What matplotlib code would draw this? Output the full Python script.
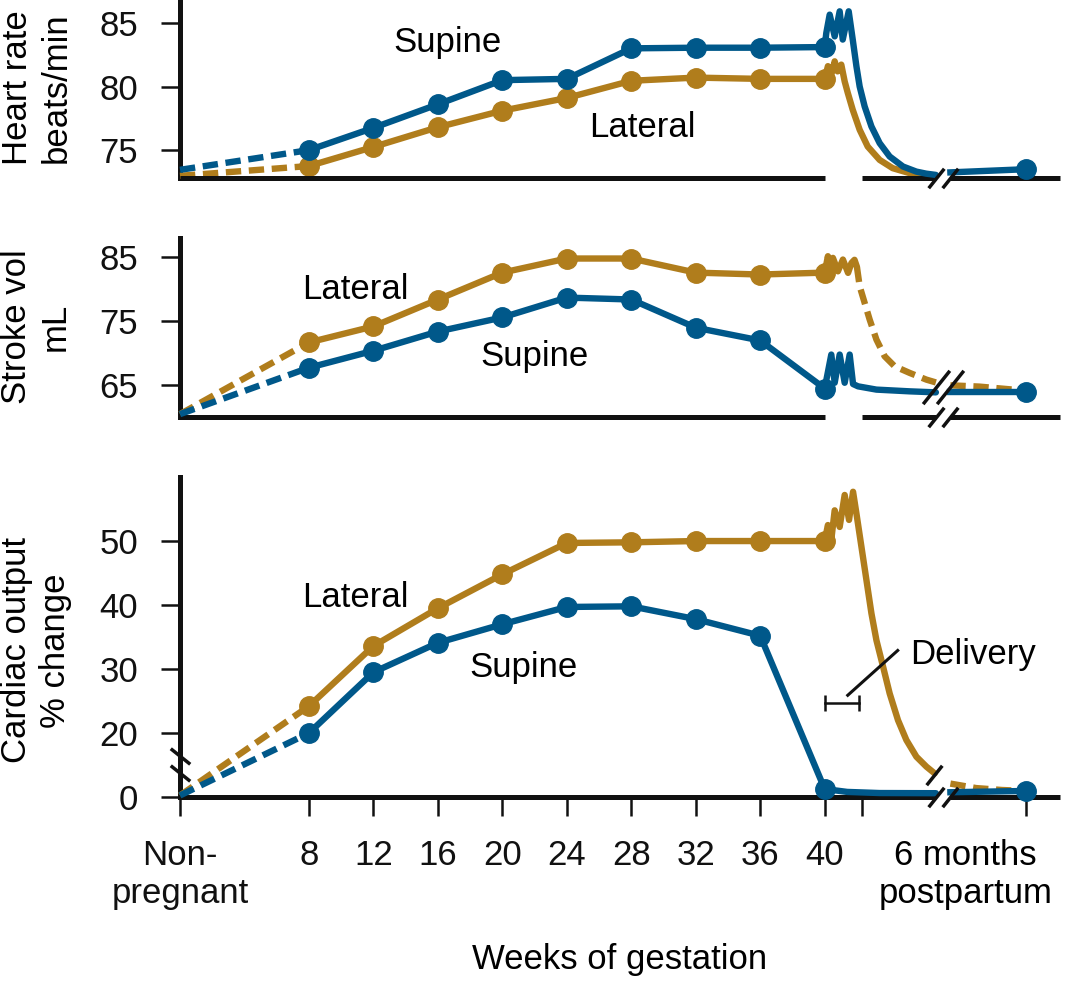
import numpy as np
import matplotlib
matplotlib.use('Agg')
import matplotlib.pyplot as plt

# colours and basic style
BLUE = '#00588A'
GOLD = '#B07D1C'
INK = '#111111'
plt.rcParams['font.family'] = ['Liberation Sans', 'DejaVu Sans']
plt.rcParams['font.size'] = 25

# --- data (weeks of gestation) ---
weeks = [8, 12, 16, 20, 24, 28, 32, 36, 40]
post_week = 52.5          # 6 months postpartum, on the broken axis
post_label_week = 48.75   # where its label is centred
delivery_week = 42.3
brk = (46.9, 47.8)        # axis break

# heart rate (beats/min)
hr_start = {'supine': 73.45, 'lateral': 72.98}
hr_supine = [75.0, 76.75, 78.6, 80.5, 80.6, 83.0, 83.05, 83.05, 83.1]
hr_lateral = [73.75, 75.25, 76.8, 78.1, 79.1, 80.45, 80.7, 80.6, 80.6]
hr_sup_after_w = [40, 40.10, 40.31, 40.62, 40.93, 41.12, 41.49, 41.74, 41.97, 42.17, 42.48, 42.90,
                  43.41, 44.03, 44.86, 45.69, 46.3, 46.9]
hr_sup_after_v = [83.1, 84.21, 85.65, 83.94, 85.91, 83.69, 85.91, 83.69, 81.58, 80.0, 78.43, 76.86,
                  75.55, 74.5, 73.71, 73.31, 73.15, 73.05]
hr_lat_after_w = [40, 40.2, 40.45, 40.62, 40.8, 41.03, 41.24, 41.43, 41.74, 42.17, 42.67, 43.41,
                  44.22, 45.27, 46.08, 46.7]
hr_lat_after_v = [80.6, 81.6, 81.1, 81.98, 81.19, 81.72, 80.4, 79.51, 78.17, 76.6, 75.28, 74.23,
                  73.58, 73.19, 73.05, 73.0]
hr_sup_post = [73.25, 73.5]

# stroke volume (mL)
sv_start = {'supine': 60.5, 'lateral': 60.5}
sv_supine = [67.75, 70.4, 73.4, 75.6, 78.7, 78.4, 74.0, 72.0, 64.5]
sv_lateral = [71.7, 74.2, 78.4, 82.6, 84.8, 84.8, 82.6, 82.3, 82.6]
sv_lat_wiggle_w = [40, 40.2, 40.31, 40.51, 40.82, 41.13, 41.45, 41.66, 41.85, 42.0]
sv_lat_wiggle_v = [82.6, 85.16, 83.08, 84.9, 82.8, 84.64, 82.56, 84.1, 84.6, 83.5]
sv_lat_decay_w = [42.0, 42.17, 42.48, 42.79, 43.21, 43.72, 44.34, 45.27, 46.31, 46.9]
sv_lat_decay_v = [83.5, 80.47, 77.87, 75.27, 72.14, 69.53, 67.97, 66.94, 65.89, 65.45]
sv_lat_post_w = [47.8, 49.6, 51.7, 52.5]
sv_lat_post_v = [65.0, 64.8, 64.33, 64.0]
sv_sup_after_w = [40, 40.41, 40.62, 40.93, 41.24, 41.55, 41.76, 42.07, 43.21, 45.27, 46.9]
sv_sup_after_v = [64.5, 69.8, 65.4, 69.8, 65.4, 69.8, 65.2, 64.84, 64.33, 64.06, 63.9]
sv_sup_post = [63.9, 63.9]

# cardiac output (% change)
co_start = {'supine': 0.5, 'lateral': 0.5}
co_supine = [20.0, 29.5, 34.1, 37.0, 39.7, 39.8, 37.8, 35.2, 2.5]
co_lateral = [24.2, 33.6, 39.5, 44.8, 49.7, 49.8, 50.0, 50.0, 50.0]
co_lat_after_w = [40, 40.2, 40.42, 40.62, 40.93, 41.24, 41.51, 41.76, 41.97, 42.28, 42.59, 42.9,
                  43.21, 43.62, 44.03, 44.55, 45.07, 45.69, 46.31, 46.82]
co_lat_after_v = [50, 52.5, 50.4, 54.8, 52.2, 57.2, 53.3, 57.7, 54.3, 49.1, 43.9, 38.7,
                  34.5, 30.4, 26.2, 22.0, 17.8, 12.6, 9.5, 7.4]
co_lat_post_w = [47.8, 49.4, 51.0, 52.5]
co_lat_post_v = [4.2, 2.8, 2.2, 1.9]
co_sup_after_w = [40, 41.4, 43.4, 46.9]
co_sup_after_v = [2.5, 1.6, 1.25, 1.2]
co_sup_post = [1.5, 1.9]

tick_labels = ['Non-\npregnant', '8', '12', '16', '20', '24', '28', '32', '36', '40', '', '']

LW = 4.6
MS = 14
DASH = (2.4, 1.2)
SLASH = [(-0.8, -1), (0.8, 1)]
BACKSLASH = [(-1, 0.8), (1, -0.8)]


def solid(ax, x, y, color, z=3):
    ax.plot(x, y, color=color, lw=LW, solid_capstyle='round', solid_joinstyle='round', zorder=z, clip_on=False)


def dashed(ax, x, y, color, z=3):
    ax.plot(x, y, color=color, lw=LW, dashes=DASH, dash_capstyle='butt', zorder=z, clip_on=False)


def pregnancy(ax, start, vals, color, z=3):
    dashed(ax, [0, weeks[0]], [start, vals[0]], color, z)
    ax.plot(weeks, vals, color=color, lw=LW, marker='o', ms=MS, solid_joinstyle='round', zorder=z + 1, clip_on=False)


def style_axis(ax, split_spine=True):
    for s in ['top', 'right', 'bottom']:
        ax.spines[s].set_visible(False)
    ax.spines['left'].set_linewidth(3.6)
    ax.spines['left'].set_color(INK)
    ax.set_xlim(0, 54.6)
    ax.tick_params(axis='y', length=14, width=1.8, pad=16, colors=INK, labelsize=25)
    tr = ax.get_xaxis_transform()
    if split_spine:
        segs = [(0, 40), (delivery_week, brk[0]), (brk[1], 54.6)]
    else:
        segs = [(0, brk[0]), (brk[1], 54.6)]
    for a, b in segs:
        ax.plot([a, b], [0, 0], color=INK, lw=3.6, transform=tr, clip_on=False, solid_capstyle='butt', zorder=5)
    for xb in brk:
        ax.plot([xb], [0], transform=tr, marker=SLASH, ms=14, mew=2.5, color=INK, clip_on=False, zorder=6)


fig = plt.figure(figsize=(10.74, 9.84), dpi=100)
left, width = 180 / 1074, 880 / 1074
ax1 = fig.add_axes([left, 0.819, width, 0.181])
ax2 = fig.add_axes([left, 0.5762, width, 0.1819])
ax3 = fig.add_axes([left, 0.19, width, 0.3252])

# --- heart rate ---
style_axis(ax1)
ax1.set_ylim(72.8, 86.8)
ax1.set_yticks([75, 80, 85])
ax1.tick_params(axis='x', bottom=False, labelbottom=False)
pregnancy(ax1, hr_start['lateral'], hr_lateral, GOLD)
solid(ax1, hr_lat_after_w, hr_lat_after_v, GOLD)
pregnancy(ax1, hr_start['supine'], hr_supine, BLUE, z=5)
solid(ax1, hr_sup_after_w, hr_sup_after_v, BLUE, z=5)
ax1.plot([brk[1], post_week], hr_sup_post, color=BLUE, lw=LW, zorder=5, clip_on=False)
ax1.plot([post_week], hr_sup_post[-1:], 'o', color=BLUE, ms=MS, zorder=6, clip_on=False)
ax1.text(16.6, 83.45, 'Supine', ha='center', va='center')
ax1.text(28.7, 76.8, 'Lateral', ha='center', va='center')

# --- stroke volume ---
style_axis(ax2)
ax2.set_ylim(60.05, 88.0)
ax2.set_yticks([65, 75, 85])
ax2.tick_params(axis='x', bottom=False, labelbottom=False)
pregnancy(ax2, sv_start['lateral'], sv_lateral, GOLD)
solid(ax2, sv_lat_wiggle_w, sv_lat_wiggle_v, GOLD)
dashed(ax2, sv_lat_decay_w, sv_lat_decay_v, GOLD)
dashed(ax2, sv_lat_post_w, sv_lat_post_v, GOLD)
pregnancy(ax2, sv_start['supine'], sv_supine, BLUE, z=5)
solid(ax2, sv_sup_after_w, sv_sup_after_v, BLUE, z=5)
ax2.plot([brk[1], post_week], sv_sup_post, color=BLUE, lw=LW, zorder=5)
ax2.plot([post_week], sv_sup_post[-1:], 'o', color=BLUE, ms=MS, zorder=6, clip_on=False)
for xb in brk:
    ax2.plot([xb], [64.7], marker=SLASH, ms=24, mew=2.5, color=INK, zorder=7)
ax2.text(10.9, 79.95, 'Lateral', ha='center', va='center')
ax2.text(22.0, 69.5, 'Supine', ha='center', va='center')


# --- cardiac output, with a broken y axis (0-20 compressed) ---
def fwd(v):
    v = np.asarray(v, dtype=float)
    return np.where(v < 20, v / 2, v - 10)


def inv(u):
    u = np.asarray(u, dtype=float)
    return np.where(u < 10, u * 2, u + 10)


style_axis(ax3, split_spine=False)
ax3.set_yscale('function', functions=(fwd, inv))
ax3.set_ylim(0, 60)
ax3.set_yticks([0, 20, 30, 40, 50])
ax3.set_yticklabels(['0', '20', '30', '40', '50'])
ax3.set_xticks([0] + weeks + [delivery_week, post_week])
ax3.set_xticklabels(tick_labels)
ax3.set_xticks([post_label_week], minor=True)
ax3.set_xticklabels(['6 months\npostpartum'], minor=True)
ax3.tick_params(axis='x', length=14, width=1.8, pad=16, colors=INK, labelsize=25)
ax3.tick_params(axis='x', which='minor', length=0, pad=30)
pregnancy(ax3, co_start['lateral'], co_lateral, GOLD)
solid(ax3, co_lat_after_w, co_lat_after_v, GOLD)
dashed(ax3, co_lat_post_w, co_lat_post_v, GOLD)
pregnancy(ax3, co_start['supine'], co_supine, BLUE, z=5)
solid(ax3, co_sup_after_w, co_sup_after_v, BLUE, z=5)
ax3.plot([brk[1], post_week], co_sup_post, color=BLUE, lw=LW, zorder=5)
ax3.plot([post_week], co_sup_post[-1:], 'o', color=BLUE, ms=MS, zorder=6, clip_on=False)
ax3.plot([brk[0] - 0.1], [7.0], marker=SLASH, ms=14, mew=2.5, color=INK, zorder=7)
ytr = ax3.get_yaxis_transform()
for yb in [12.8, 7.5]:
    ax3.plot([0], [yb], transform=ytr, marker=BACKSLASH, ms=14, mew=2.5, color=INK, clip_on=False, zorder=7)
ax3.text(10.9, 41.25, 'Lateral', ha='center', va='center')
ax3.text(21.3, 30.2, 'Supine', ha='center', va='center')

# delivery bracket
ax3.plot([40, 42.1], [24.7, 24.7], color=INK, lw=1.8, marker='|', ms=12, mew=1.8, zorder=7)
ax3.plot([41.43, 44.53], [25.9, 32.9], color=INK, lw=2.2, zorder=7)
ax3.text(45.3, 32.2, 'Delivery', ha='left', va='center')

# axis labels
fig.text(0.0345, 0.9106, 'Heart rate\nbeats/min', rotation=90, ha='center', va='center', multialignment='center')
fig.text(0.0335, 0.6677, 'Stroke vol\nmL', rotation=90, ha='center', va='center', multialignment='center')
fig.text(0.0335, 0.3390, 'Cardiac output\n% change', rotation=90, ha='center', va='center', multialignment='center')
fig.text(0.577, 0.0244, 'Weeks of gestation', ha='center', va='center')

fig.savefig('out.png', dpi=100)
